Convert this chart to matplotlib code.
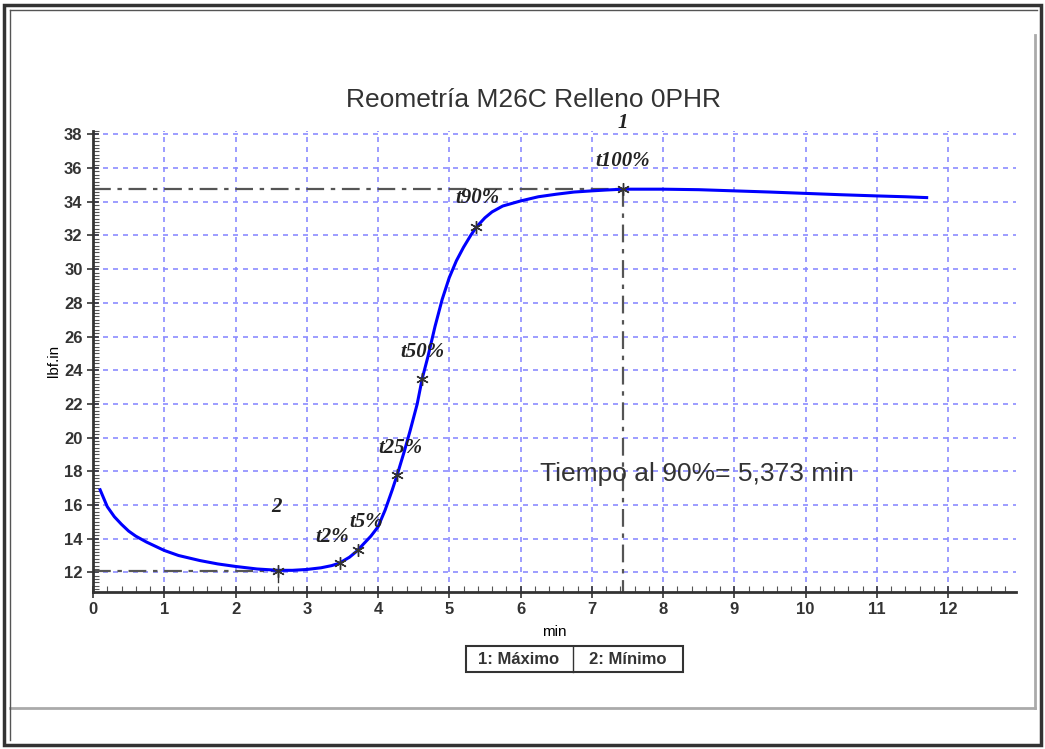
import matplotlib
matplotlib.use("Agg")
import matplotlib.pyplot as plt
from matplotlib.lines import Line2D
from matplotlib.patches import Rectangle
from matplotlib.ticker import MultipleLocator

# cure curve (min vs lbf.in)
t_min = [0.1, 0.15, 0.2, 0.3, 0.4, 0.5, 0.6, 0.75, 0.9, 1.0, 1.2, 1.5, 1.75, 2.0, 2.3,
         2.6, 2.8, 3.0, 3.2, 3.35, 3.46, 3.6, 3.7, 3.8, 3.9, 4.0, 4.1, 4.2, 4.27, 4.37,
         4.45, 4.55, 4.62, 4.7, 4.8, 4.9, 5.0, 5.1, 5.2, 5.3, 5.38, 5.5, 5.6, 5.75, 6.0,
         6.25, 6.5, 6.75, 7.0, 7.2, 7.44, 8.0, 8.5, 9.0, 9.5, 10.0, 10.5, 11.0, 11.4, 11.7]
torque = [16.9, 16.4, 15.9, 15.3, 14.85, 14.45, 14.15, 13.8, 13.5, 13.3, 13.0, 12.7, 12.5,
          12.35, 12.2, 12.12, 12.12, 12.17, 12.27, 12.4, 12.55, 12.9, 13.25, 13.7, 14.15,
          14.7, 15.7, 16.9, 17.8, 19.2, 20.4, 22.0, 23.5, 24.8, 26.6, 28.2, 29.5, 30.5,
          31.3, 32.0, 32.5, 33.05, 33.4, 33.75, 34.05, 34.3, 34.45, 34.58, 34.65, 34.7,
          34.75, 34.75, 34.72, 34.65, 34.58, 34.5, 34.42, 34.35, 34.3, 34.25]

# characteristic points
pt_names = ["t2%", "t5%", "t25%", "t50%", "t90%", "t100%"]
pt_x = [3.46, 3.72, 4.27, 4.62, 5.38, 7.44]
pt_y = [12.55, 13.3, 17.8, 23.5, 32.5, 34.75]
pt_lbl_x = [3.36, 3.84, 4.31, 4.62, 5.40, 7.44]
pt_lbl_y = [14.1, 15.0, 19.4, 25.1, 34.2, 36.4]

x_max, y_max = 7.44, 34.75
x_minp, y_minp = 2.6, 12.1

SERIF = ["Liberation Serif", "DejaVu Serif"]
SANS = ["Liberation Sans", "DejaVu Sans"]
plt.rcParams["font.family"] = SANS

fig = plt.figure(figsize=(10.45, 7.49), dpi=100)
ax = fig.add_axes([0.089, 0.21, 0.883, 0.615])

ax.plot(t_min, torque, color="#0000ff", lw=2.2, zorder=3, solid_joinstyle="round")
ax.plot(pt_x, pt_y, ls="", marker=(6, 2, 0), ms=9, mew=1, color="#333333", zorder=4)
ax.plot([x_minp], [y_minp], ls="", marker=(6, 2, 0), ms=9, mew=1, color="#333333", zorder=4)
ax.plot([x_minp, x_minp], [y_minp, 11.4], color="#333333", lw=1, zorder=4)

# max / min guides
dd = (0, (8, 3, 2, 3))
ax.plot([0, x_max], [y_max, y_max], color="#555555", lw=1.6, ls=dd, zorder=2)
ax.plot([x_max, x_max], [y_max, 10.85], color="#555555", lw=1.6, ls=dd, zorder=2)
ax.plot([0, x_minp], [y_minp, y_minp], color="#555555", lw=1.6, ls=dd, zorder=2)

lab = dict(family=SERIF, style="italic", weight="bold", fontsize=15, ha="center",
           va="center", color="#222222", clip_on=False)
for name, lx, ly in zip(pt_names, pt_lbl_x, pt_lbl_y):
    ax.text(lx, ly, name, **lab)
ax.text(x_max, 38.65, "1", **lab)
ax.text(2.58, 15.9, "2", **lab)
ax.text(6.28, 17.85, "Tiempo al 90%= 5,373 min", fontsize=19, ha="left", va="center",
        color="#333333")

ax.set_xlim(0, 12.95)
ax.set_ylim(10.85, 38.2)
ax.xaxis.set_major_locator(MultipleLocator(1))
ax.xaxis.set_minor_locator(MultipleLocator(0.2))
ax.yaxis.set_major_locator(MultipleLocator(2))
ax.yaxis.set_minor_locator(MultipleLocator(0.2))
ax.set_xticks(range(0, 13))
ax.grid(True, which="major", color="#8c8cff", ls=(0, (3, 3)), lw=1.2)
ax.set_axisbelow(True)
for s in ("top", "right"):
    ax.spines[s].set_visible(False)
for s in ("left", "bottom"):
    ax.spines[s].set_linewidth(2)
    ax.spines[s].set_color("#333333")
ax.tick_params(which="major", direction="inout", length=8, width=1.2, color="#333333",
               labelsize=12)
ax.tick_params(which="minor", direction="in", length=4, width=0.8, color="#555555")
for lbl in ax.get_xticklabels() + ax.get_yticklabels():
    lbl.set_fontweight("bold")
    lbl.set_color("#333333")

ax.set_xlabel("min", fontsize=11, labelpad=6)
ax.set_ylabel("lbf.in", fontsize=11, labelpad=2)
fig.text(0.511, 0.866, "Reometría M26C Relleno 0PHR", fontsize=19, ha="center",
         va="center", color="#333333")

# legend-like box under the axes
fig.patches.append(Rectangle((466 / 1045, 1 - 672 / 749), 217 / 1045, 26 / 749,
                             transform=fig.transFigure, fill=False, ec="#333333", lw=1.5))
fig.lines.append(Line2D([573 / 1045] * 2, [1 - 672 / 749, 1 - 646 / 749],
                        transform=fig.transFigure, color="#333333", lw=1))
fig.text(519 / 1045, 1 - 659 / 749, "1: Máximo", fontsize=12, weight="bold", ha="center",
         va="center", color="#333333")
fig.text(628 / 1045, 1 - 659 / 749, "2: Mínimo", fontsize=12, weight="bold", ha="center",
         va="center", color="#333333")

# outer frames
fig.patches.append(Rectangle((4 / 1045, 4 / 749), 1037 / 1045, 740 / 749,
                             transform=fig.transFigure, fill=False, ec="#333333", lw=2.5))
fig.lines.append(Line2D([10 / 1045, 1035 / 1045], [1 - 708 / 749] * 2,
                        transform=fig.transFigure, color="#aaaaaa", lw=2))
fig.lines.append(Line2D([1035 / 1045] * 2, [1 - 708 / 749, 1 - 35 / 749],
                        transform=fig.transFigure, color="#aaaaaa", lw=2))
fig.lines.append(Line2D([10 / 1045] * 2, [1 - 740 / 749, 1 - 10 / 749],
                        transform=fig.transFigure, color="#555555", lw=1))
fig.lines.append(Line2D([10 / 1045, 1037 / 1045], [1 - 10 / 749] * 2,
                        transform=fig.transFigure, color="#555555", lw=1))

fig.savefig("out.png", dpi=100)
